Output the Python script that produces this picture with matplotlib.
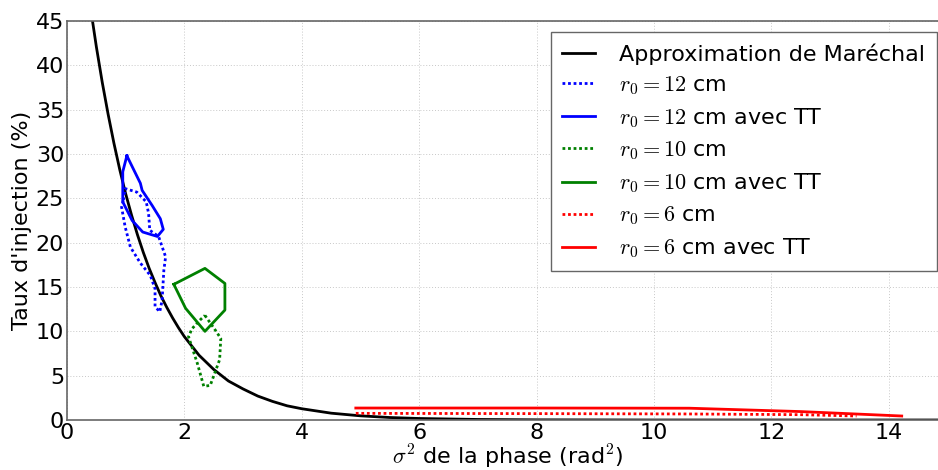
import matplotlib
matplotlib.use("Agg")
import matplotlib.pyplot as plt

# Maréchal approximation
mar_x = [0.3, 0.43, 0.5, 0.6, 0.7, 0.8, 0.9, 1.0, 1.1, 1.2, 1.3, 1.4, 1.5, 1.6, 1.7, 1.8, 1.9, 2.0,
         2.25, 2.5, 2.75, 3.0, 3.25, 3.5, 3.75, 4.0, 4.5, 5.0, 5.5, 6.0, 7.0, 8.0, 9.0, 10.0, 12.0, 15.0]
mar_y = [51.4, 45.2, 42.1, 38.1, 34.5, 31.2, 28.2, 25.5, 23.1, 20.9, 18.9, 17.1, 15.5, 14.0, 12.7, 11.5,
         10.4, 9.4, 7.3, 5.7, 4.4, 3.5, 2.7, 2.1, 1.6, 1.27, 0.77, 0.47, 0.28, 0.17, 0.06, 0.02, 0.01, 0.0, 0.0, 0.0]

# r0 = 12 cm
r12_x = [0.96, 0.99, 1.19, 1.35, 1.39, 1.41, 1.56, 1.68, 1.65, 1.62, 1.58, 1.50, 1.50, 1.42, 1.25, 1.08, 0.99, 0.93, 0.96]
r12_y = [24.8, 26.1, 25.7, 24.6, 23.3, 21.4, 20.7, 18.4, 16.9, 13.5, 12.2, 12.8, 14.8, 16.3, 17.7, 19.5, 21.8, 24.0, 24.8]
r12tt_x = [1.02, 1.25, 1.28, 1.45, 1.59, 1.64, 1.54, 1.29, 1.11, 0.95, 0.95, 1.02]
r12tt_y = [29.8, 26.7, 25.9, 24.2, 22.7, 21.5, 20.7, 21.2, 22.5, 24.6, 28.0, 29.8]

# r0 = 10 cm
r10_x = [2.35, 2.53, 2.62, 2.60, 2.44, 2.33, 2.22, 2.07, 2.13, 2.27, 2.35]
r10_y = [11.8, 10.1, 9.2, 6.8, 3.9, 3.8, 6.4, 9.4, 10.3, 11.3, 11.8]
r10tt_x = [1.82, 2.35, 2.69, 2.69, 2.35, 2.02, 1.82]
r10tt_y = [15.3, 17.1, 15.4, 12.4, 10.0, 12.6, 15.3]

# r0 = 6 cm
r6_x = [4.92, 8.0, 10.6, 12.5, 13.45]
r6_y = [0.75, 0.72, 0.68, 0.6, 0.45]
r6tt_x = [4.92, 8.0, 10.6, 12.5, 14.22]
r6tt_y = [1.35, 1.35, 1.33, 0.95, 0.45]

labels = ["Approximation de Maréchal",
          r"$r_0 = 12$ cm", r"$r_0 = 12$ cm avec TT",
          r"$r_0 = 10$ cm", r"$r_0 = 10$ cm avec TT",
          r"$r_0 = 6$ cm", r"$r_0 = 6$ cm avec TT"]
xticks = [0, 2, 4, 6, 8, 10, 12, 14]
yticks = [0, 5, 10, 15, 20, 25, 30, 35, 40, 45]

plt.rcParams['font.family'] = ['DejaVu Sans']
plt.rcParams['mathtext.fontset'] = 'cm'

fig = plt.figure(figsize=(9.38, 4.70), dpi=100)
ax = fig.add_axes([67 / 938, 1 - 420 / 470, (947.5 - 67) / 938, (420 - 21) / 470])

dot = (0, (1, 1))
lw = 2.0
ax.plot(mar_x, mar_y, color='black', lw=lw, label=labels[0])
ax.plot(r12_x, r12_y, color='blue', lw=lw, ls=dot, label=labels[1])
ax.plot(r12tt_x, r12tt_y, color='blue', lw=lw, label=labels[2])
ax.plot(r10_x, r10_y, color='green', lw=lw, ls=dot, label=labels[3])
ax.plot(r10tt_x, r10tt_y, color='green', lw=lw, label=labels[4])
ax.plot(r6_x, r6_y, color='red', lw=lw, ls=dot, label=labels[5])
ax.plot(r6tt_x, r6tt_y, color='red', lw=lw, label=labels[6])

ax.set_xlim(0, 15)
ax.set_ylim(0, 45)
ax.set_xticks(xticks)
ax.set_yticks(yticks)
ax.tick_params(length=0, labelsize=16, pad=2)
ax.grid(True, color='#c8c8c8', ls=(0, (1, 2)), lw=0.7)
for s in ax.spines.values():
    s.set_color('#666666')
    s.set_linewidth(1.2)

ax.set_xlabel(r"$\sigma^2$ de la phase (rad$^2$)", fontsize=16, labelpad=0)
ax.set_ylabel("Taux d'injection (%)", fontsize=16, labelpad=3)

leg = ax.legend(loc='upper right', bbox_to_anchor=(936.5 / 938, 1 - 32 / 470),
                bbox_transform=fig.transFigure, borderaxespad=0, fontsize=16,
                fancybox=False, framealpha=1, edgecolor='#666666', handlelength=1.5,
                labelspacing=0.42, handletextpad=1.1, borderpad=0.5)
leg.get_frame().set_linewidth(1.0)

fig.savefig("out.png", dpi=100)
